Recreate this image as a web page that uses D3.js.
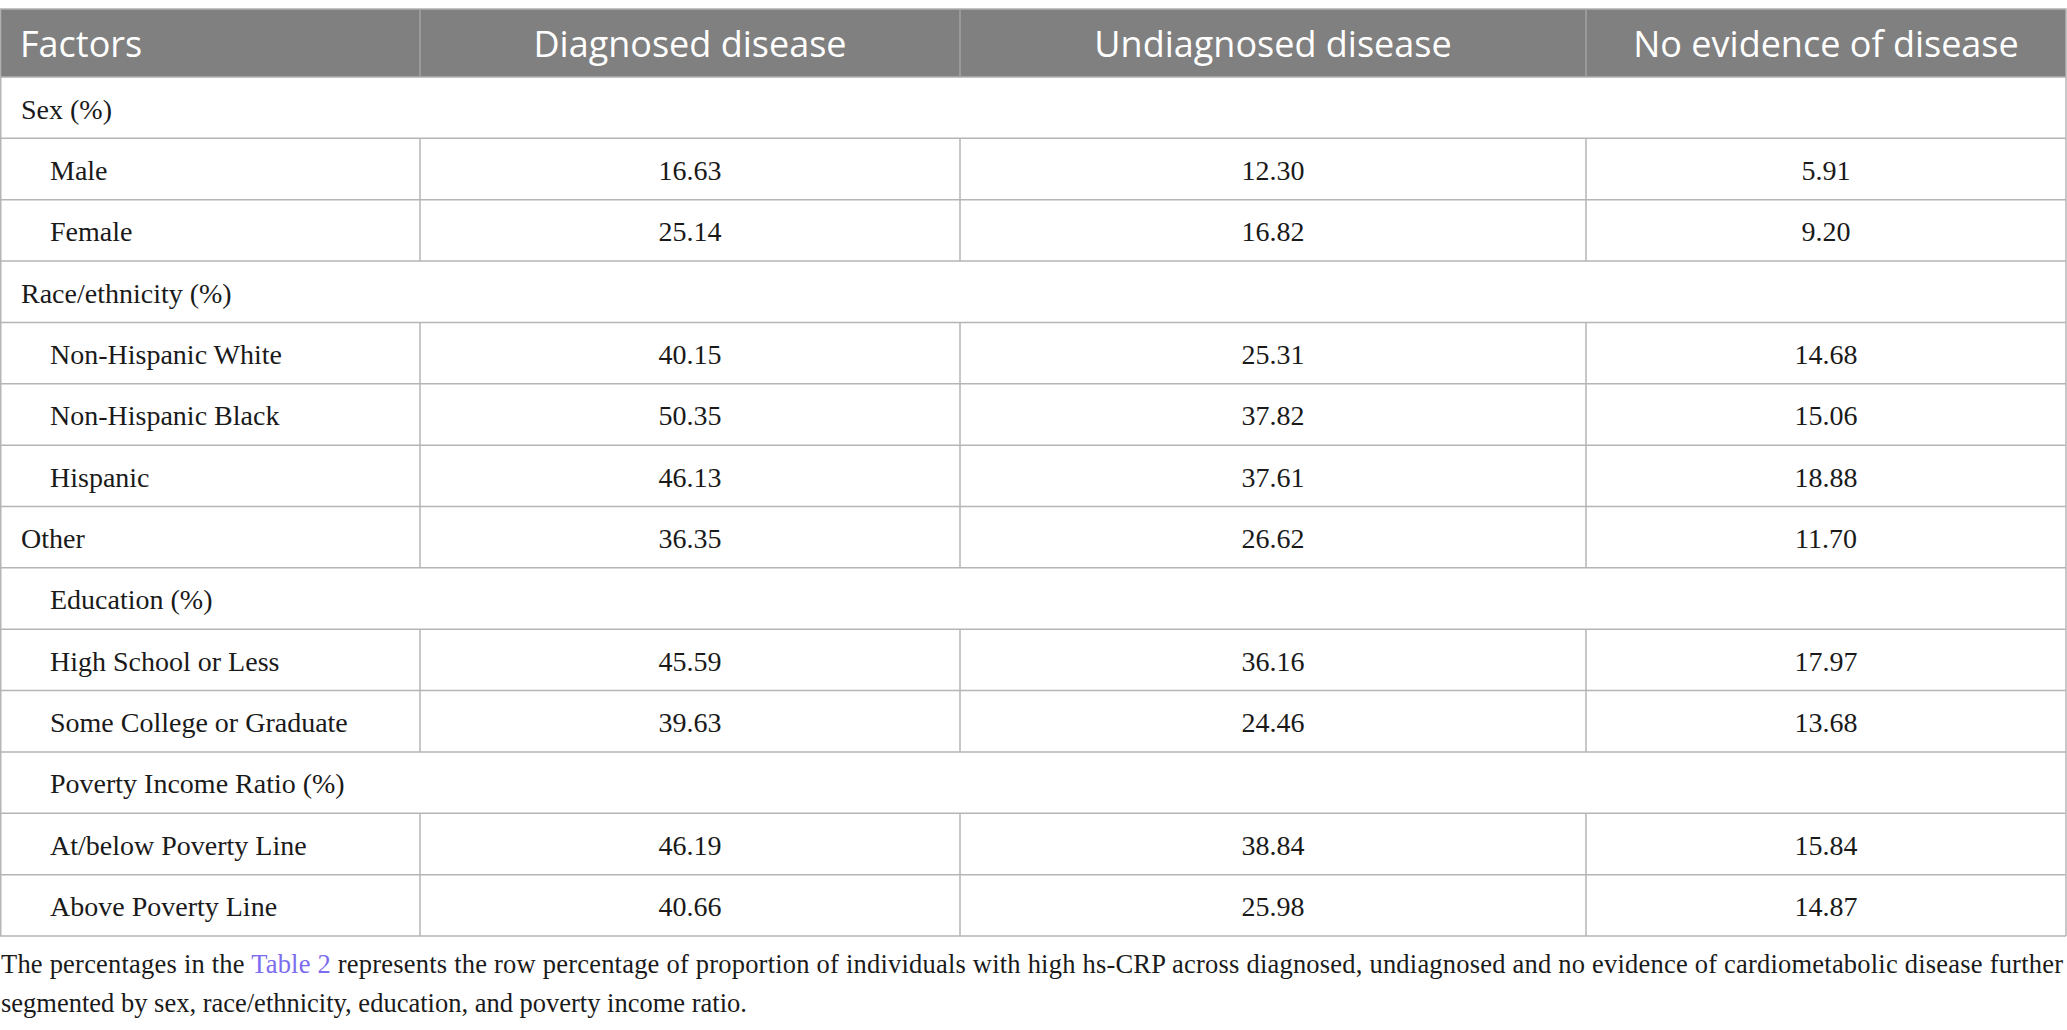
<!DOCTYPE html>
<html>
<head>
<meta charset="utf-8">
<script src="https://cdn.jsdelivr.net/npm/d3@7"></script>
<style>
  html, body { margin: 0; padding: 0; background: #fff; }
  svg { display: block; }
</style>
</head>
<body>
<div id="table"></div>
<script>
// table content
var columns = ['Factors', 'Diagnosed disease', 'Undiagnosed disease', 'No evidence of disease'];
var factors = ['Sex (%)', 'Male', 'Female', 'Race/ethnicity (%)', 'Non-Hispanic White',
  'Non-Hispanic Black', 'Hispanic', 'Other', 'Education (%)', 'High School or Less',
  'Some College or Graduate', 'Poverty Income Ratio (%)', 'At/below Poverty Line',
  'Above Poverty Line'];
var diagnosed   = [null, '16.63', '25.14', null, '40.15', '50.35', '46.13', '36.35', null, '45.59', '39.63', null, '46.19', '40.66'];
var undiagnosed = [null, '12.30', '16.82', null, '25.31', '37.82', '37.61', '26.62', null, '36.16', '24.46', null, '38.84', '25.98'];
var noEvidence  = [null, '5.91', '9.20', null, '14.68', '15.06', '18.88', '11.70', null, '17.97', '13.68', null, '15.84', '14.87'];
var captionLine1 = ['The percentages in the ', 'Table 2', ' represents the row percentage of proportion of individuals with high hs-CRP across diagnosed, undiagnosed and no evidence of cardiometabolic disease further'];
var captionLine2 = 'segmented by sex, race/ethnicity, education, and poverty income ratio.';

// labels drawn flush left (no indent)
var flushLeft = ['Sex (%)', 'Race/ethnicity (%)', 'Other'];

var W = 2067, H = 1030;
var headTop = 9, headBottom = 77, tableBottom = 936;
var lineColor = '#b5b5b5';
var serif = '"Liberation Serif", "Times New Roman", serif';
var sans = '"Open Sans", "Noto Sans", sans-serif';

var svg = d3.select('#table').append('svg')
    .attr('width', W).attr('height', H);

// column edges
var colX = d3.scaleOrdinal().domain(columns).range([0, 420, 960, 1586]);
var colRight = d3.scaleOrdinal().domain(columns).range([420, 960, 1586, 2066]);
var colMid = function(c) { return (colX(c) + colRight(c)) / 2; };

// rows
var y = d3.scaleBand().domain(factors).range([headBottom, tableBottom]);

var series = [diagnosed, undiagnosed, noEvidence];
var rows = factors.map(function(f, i) {
    return {
	label : f,
	values : series.map(function(s) { return s[i]; }),
	section : diagnosed[i] === null
    };
});

// header
svg.append('rect')
    .attr('x', 0.5).attr('y', headTop)
    .attr('width', colRight(columns[3]) - 0.5).attr('height', headBottom - headTop)
    .attr('fill', '#808080').attr('stroke', '#b0b0b0').attr('stroke-width', 1.5);

svg.selectAll('.hdiv').data(columns.slice(1)).enter().append('line')
    .attr('class', 'hdiv')
    .attr('x1', function(c) { return colX(c); }).attr('x2', function(c) { return colX(c); })
    .attr('y1', headTop).attr('y2', headBottom)
    .attr('stroke', '#a3a3a3').attr('stroke-width', 1.5);

svg.selectAll('.htext').data(columns).enter().append('text')
    .attr('class', 'htext')
    .attr('x', function(c, i) { return i === 0 ? 20 : colMid(c); })
    .attr('y', headTop + 48)
    .attr('text-anchor', function(c, i) { return i === 0 ? 'start' : 'middle'; })
    .attr('font-family', sans).attr('font-size', 36)
    .attr('fill', '#fff')
    .text(function(c) { return c; });

// body rows
var g = svg.append('g');

// horizontal lines between rows
g.selectAll('.hline').data(factors).enter().append('line')
    .attr('class', 'hline')
    .attr('x1', 0).attr('x2', colRight(columns[3]))
    .attr('y1', function(f) { return y(f) + y.bandwidth(); })
    .attr('y2', function(f) { return y(f) + y.bandwidth(); })
    .attr('stroke', lineColor).attr('stroke-width', 1.5);

// outer left/right borders
g.selectAll('.edge').data([0.75, colRight(columns[3])]).enter().append('line')
    .attr('class', 'edge')
    .attr('x1', function(d) { return d; }).attr('x2', function(d) { return d; })
    .attr('y1', headBottom).attr('y2', tableBottom)
    .attr('stroke', lineColor).attr('stroke-width', 1.5);

// vertical dividers only in data rows
rows.filter(function(r) { return !r.section; }).forEach(function(r) {
    g.selectAll(null).data(columns.slice(1)).enter().append('line')
	.attr('x1', function(c) { return colX(c); }).attr('x2', function(c) { return colX(c); })
	.attr('y1', y(r.label)).attr('y2', y(r.label) + y.bandwidth())
	.attr('stroke', lineColor).attr('stroke-width', 1.5);
});

g.selectAll('.label').data(rows).enter().append('text')
    .attr('class', 'label')
    .attr('x', function(r) { return flushLeft.indexOf(r.label) >= 0 ? 21 : 50; })
    .attr('y', function(r) { return y(r.label) + 41.5; })
    .attr('font-family', serif).attr('font-size', 28)
    .attr('fill', '#1a1a1a')
    .text(function(r) { return r.label; });

rows.forEach(function(r) {
    if (r.section) return;
    g.selectAll(null).data(r.values).enter().append('text')
	.attr('x', function(v, j) { return colMid(columns[j + 1]); })
	.attr('y', y(r.label) + 41.5)
	.attr('text-anchor', 'middle')
	.attr('font-family', serif).attr('font-size', 28)
	.attr('fill', '#1a1a1a')
	.text(function(v) { return v; });
});

// caption
var cap1 = svg.append('text')
    .attr('x', 1).attr('y', 973)
    .attr('font-family', serif).attr('font-size', 26.5)
    .attr('fill', '#1a1a1a')
    .attr('textLength', 2062).attr('lengthAdjust', 'spacing');
cap1.selectAll('tspan').data(captionLine1).enter().append('tspan')
    .attr('fill', function(d, i) { return i === 1 ? '#7b6cf0' : '#1a1a1a'; })
    .text(function(d) { return d; });

svg.append('text')
    .attr('x', 1).attr('y', 1012)
    .attr('font-family', serif).attr('font-size', 26.5)
    .attr('fill', '#1a1a1a')
    .text(captionLine2);
</script>
</body>
</html>
